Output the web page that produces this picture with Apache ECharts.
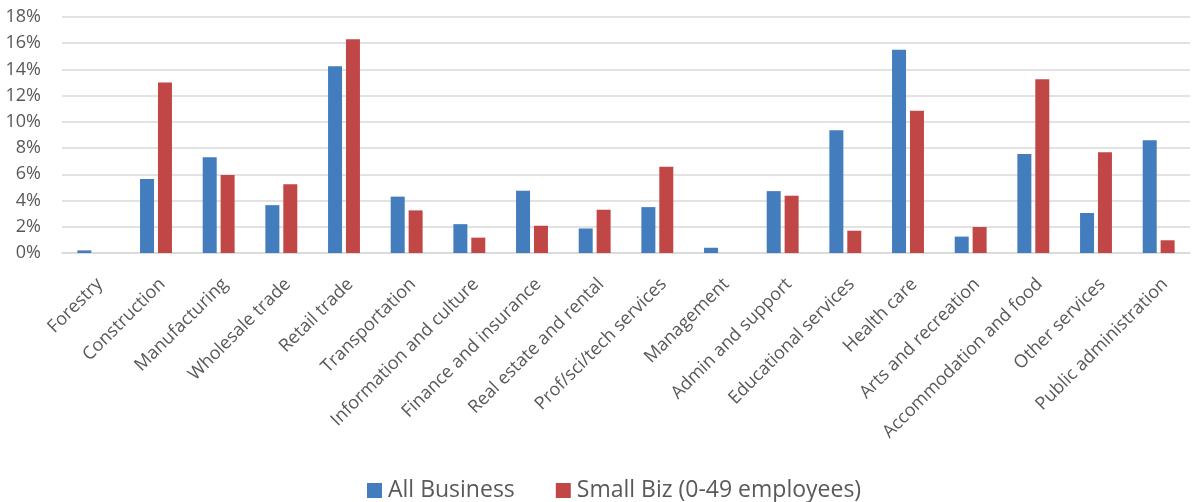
<!DOCTYPE html>
<html>
<head>
<meta charset="utf-8">
<script src="https://cdn.jsdelivr.net/npm/echarts@6/dist/echarts.min.js"></script>
<style>
  html, body { margin: 0; padding: 0; background: #fff; }
  #chart { width: 1199px; height: 502px; }
</style>
</head>
<body>
<div id="chart"></div>
<script>
// 行业分类
const categories = [
  'Forestry', 'Construction', 'Manufacturing', 'Wholesale trade', 'Retail trade',
  'Transportation', 'Information and culture', 'Finance and insurance',
  'Real estate and rental', 'Prof/sci/tech services', 'Management',
  'Admin and support', 'Educational services', 'Health care',
  'Arts and recreation', 'Accommodation and food', 'Other services',
  'Public administration'
]
// 数值（百分比）
const allBusiness = [0.2, 5.65, 7.3, 3.65, 14.25, 4.3, 2.2, 4.75, 1.87, 3.5, 0.4, 4.72, 9.37, 15.5, 1.25, 7.55, 3.05, 8.6]
const smallBiz = [0, 13.0, 5.95, 5.25, 16.3, 3.25, 1.17, 2.08, 3.3, 6.57, 0, 4.37, 1.7, 10.85, 1.98, 13.25, 7.68, 0.97]
const seriesNames = ['All Business', 'Small Biz (0-49 employees)']

const font = '"Open Sans", "Noto Sans", sans-serif'
let myChart = echarts.init(document.getElementById('chart'))
myChart.setOption({
  animation: false,
  grid: {
    left: 62,
    right: 9,
    top: 17,
    bottom: 249
  },
  legend: {
    data: seriesNames,
    top: 474,
    left: 362,
    itemWidth: 15,
    itemHeight: 15,
    itemGap: 41,
    icon: 'rect',
    textStyle: { color: '#595959', fontSize: 23, fontFamily: font, padding: [0, 0, 0, 1] }
  },
  xAxis: {
    type: 'category',
    data: categories,
    axisTick: { show: false },
    axisLine: { lineStyle: { color: '#d9d9d9', width: 1.5 } },
    axisLabel: {
      interval: 0,
      rotate: 45,
      margin: 22,
      verticalAlign: 'top',
      color: '#595959',
      fontSize: 18,
      fontFamily: font
    }
  },
  yAxis: {
    type: 'value',
    min: 0,
    max: 18,
    interval: 2,
    axisLine: { show: false },
    axisTick: { show: false },
    splitLine: { lineStyle: { color: '#d9d9d9', width: 1.5 } },
    axisLabel: {
      formatter: '{value}%',
      color: '#595959',
      fontSize: 18,
      margin: 21,
      fontFamily: font
    }
  },
  series: [
    {
      name: seriesNames[0],
      type: 'bar',
      data: allBusiness,
      barWidth: 14,
      barGap: '28%',
      itemStyle: { color: '#447dbe' }
    },
    {
      name: seriesNames[1],
      type: 'bar',
      data: smallBiz,
      barWidth: 14,
      itemStyle: { color: '#c04745' }
    }
  ]
})
</script>
</body>
</html>
